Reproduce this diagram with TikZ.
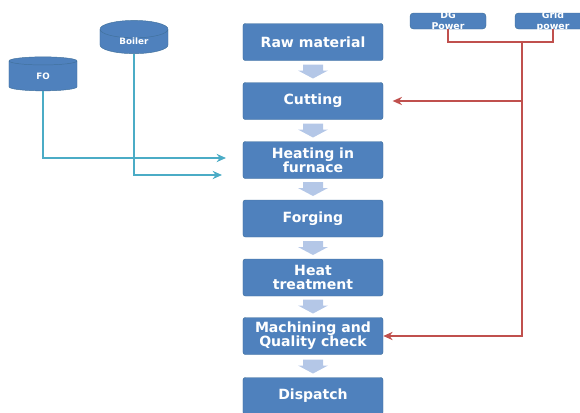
\documentclass[tikz,border=0pt]{standalone}
\usepackage{fontspec}
\setsansfont{DejaVu Sans}
\usetikzlibrary{shapes.geometric,arrows.meta}

\definecolor{boxblue}{HTML}{4F81BD}
\definecolor{boxline}{HTML}{41719C}
\definecolor{flowarrow}{HTML}{B4C7E7}
\definecolor{fuelline}{HTML}{4BACC6}
\definecolor{powerline}{HTML}{C0504D}

\tikzset{
  stage/.style={draw=boxline, fill=boxblue, rounded corners=2pt,
    minimum width=4.2cm, minimum height=1.11cm, inner sep=0pt,
    text=white, align=center,
    font=\sffamily\bfseries\fontsize{12}{12}\selectfont},
  tank/.style={cylinder, shape border rotate=90, aspect=0.6,
    draw=boxline, fill=boxblue, minimum width=2.04cm, inner sep=0pt,
    text=white, font=\sffamily\bfseries\fontsize{7.5}{8}\selectfont},
  supply/.style={draw=boxline, fill=boxblue, rounded corners=3pt,
    minimum width=2.28cm, minimum height=0.48cm, inner sep=0pt},
  supplytext/.style={text=white, align=center,
    font=\sffamily\bfseries\fontsize{8}{9.5}\selectfont},
  fuel/.style={draw=fuelline, line width=1.8pt,
    -{Stealth[length=8pt,width=7pt]}},
  power/.style={draw=powerline, line width=1.6pt},
}

\begin{document}
\begin{tikzpicture}[x=0.03cm, y=-0.03cm]
  \useasboundingbox (0,0) rectangle (580,412);

  % process chain
  \node[stage] (raw)  at (313,42)    {Raw material};
  \node[stage] (cut)  at (313,101)   {Cutting};
  \node[stage] (heat) at (313,160)   {Heating in\\furnace};
  \node[stage] (forg) at (313,218.5) {Forging};
  \node[stage] (ht)   at (313,277.5) {Heat\\treatment};
  \node[stage] (mach) at (313,336)   {Machining and\\Quality check};
  \node[stage] (disp) at (313,396)   {Dispatch};

  \foreach \y in {71.5,130.5,189,248,306.5,366.5}
    \fill[flowarrow] (303,\y-7) -- (323,\y-7) -- (323,\y-1) -- (328,\y-1)
      -- (313,\y+7) -- (298,\y-1) -- (303,\y-1) -- cycle;

  % fuel side
  \node[tank, minimum height=1.02cm] (fo)     at (43,76)    {FO};
  \node[tank, minimum height=0.93cm] (boiler) at (134,41.5) {Boiler};
  \coordinate (foend)  at (226,158);
  \coordinate (blrend) at (222,175);

  \draw[fuel] (fo.south) |- (foend);
  \draw[fuel] (boiler.south) |- (blrend);

  % power side
  \node[supply, label={[supplytext]center:DG\\Power}]   (dg)   at (448,21) {};
  \node[supply, label={[supplytext]center:Grid\\power}] (grid) at (553,21) {};
  \coordinate (bus) at (522,42);

  \draw[power] (dg.south) |- (bus);
  \draw[power] (grid.south) |- (bus);
  \draw[power, -{Stealth[length=8pt,width=7pt]}] (bus) |- (mach.east);
  \draw[power, -{Stealth[length=8pt,width=7pt]}, shorten >=8pt]
    (bus |- cut.east) -- (cut.east);
\end{tikzpicture}
\end{document}
